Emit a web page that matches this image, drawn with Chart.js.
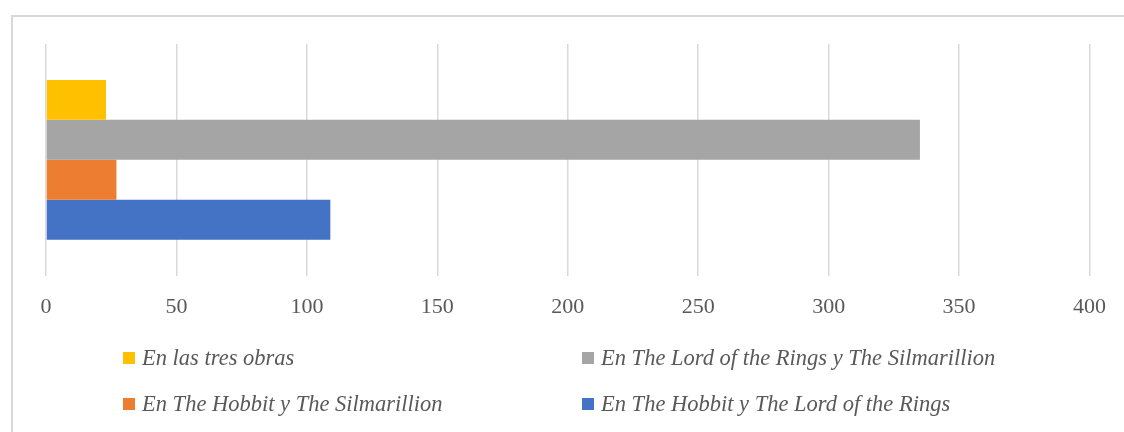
<!DOCTYPE html>
<html>
<head>
<meta charset="utf-8">
<script src="https://cdn.jsdelivr.net/npm/chart.js@4"></script>
<style>
  html, body { margin: 0; padding: 0; background: #fff; overflow: hidden; }
  #wrap { position: relative; width: 1124px; height: 432px; }
  #frame { position: absolute; left: 11px; top: 15px; width: 1200px; height: 500px;
           border: 2px solid #d9d9d9; box-sizing: border-box; }
  canvas { position: absolute; left: 0; top: 0; }
  .leg { position: absolute; font-family: "Liberation Serif", serif; font-style: italic;
         font-size: 22.5px; color: #595959; white-space: nowrap; line-height: 24px; }
  .leg span.box { display: inline-block; width: 12px; height: 12px; margin-right: 7px;
                  vertical-align: 1px; }
</style>
</head>
<body>
<div id="wrap">
  <div id="frame"></div>
  <canvas id="chart" width="1124" height="432"></canvas>
</div>
<script>
// Data
const categories = [''];
const seriesNames = [
  'En las tres obras',
  'En The Lord of the Rings y The Silmarillion',
  'En The Hobbit y The Silmarillion',
  'En The Hobbit y The Lord of the Rings'
];
const seriesValues = [23, 335, 27, 109];
const seriesColors = ['#ffc000', '#a5a5a5', '#ed7d31', '#4472c4'];
const xTicks = [0, 50, 100, 150, 200, 250, 300, 350, 400];

const datasets = seriesNames.map((name, i) => ({
  label: name,
  data: [seriesValues[i]],
  backgroundColor: seriesColors[i],
  borderWidth: 0,
  categoryPercentage: 0.69,
  barPercentage: 1.0
}));

new Chart(document.getElementById('chart').getContext('2d'), {
  type: 'bar',
  data: { labels: categories, datasets: datasets },
  options: {
    responsive: false,
    animation: false,
    indexAxis: 'y',
    layout: { padding: { left: 46, right: 28, top: 44, bottom: 94 } },
    plugins: {
      legend: { display: false },
      tooltip: { enabled: false }
    },
    scales: {
      y: { display: false },
      x: {
        min: xTicks[0],
        max: xTicks[xTicks.length - 1],
        afterBuildTicks: axis => { axis.ticks = xTicks.map(v => ({ value: v })); },
        border: { display: false },
        grid: { color: '#d9d9d9', lineWidth: 1.5, drawTicks: false },
        ticks: {
          padding: 18,
          color: '#595959',
          font: { family: '"Liberation Serif", serif', size: 22 }
        }
      }
    }
  }
});

// Legend (two columns, same order as the reference)
const legendPos = [[123, 346], [582, 346], [123, 392], [582, 392]];
const wrap = document.getElementById('wrap');
seriesNames.forEach((name, i) => {
  const d = document.createElement('div');
  d.className = 'leg';
  d.style.left = legendPos[i][0] + 'px';
  d.style.top = legendPos[i][1] + 'px';
  const b = document.createElement('span');
  b.className = 'box';
  b.style.background = seriesColors[i];
  d.appendChild(b);
  d.appendChild(document.createTextNode(name));
  wrap.appendChild(d);
});
</script>
</body>
</html>
